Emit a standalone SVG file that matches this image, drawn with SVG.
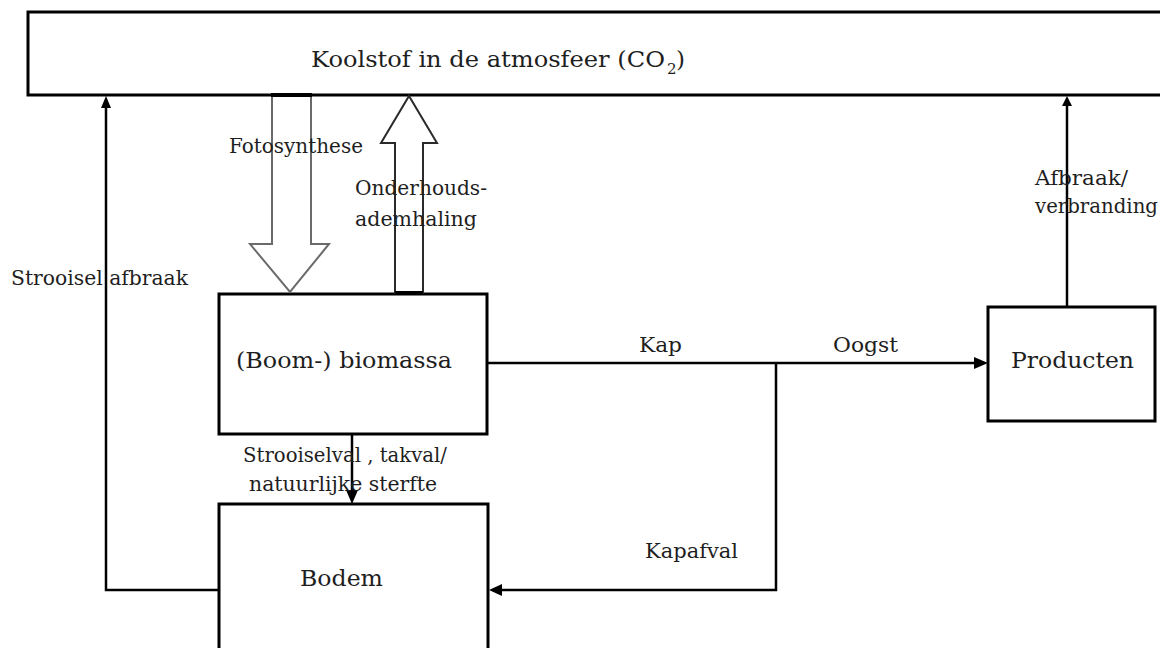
<svg xmlns="http://www.w3.org/2000/svg" width="1160" height="648" viewBox="0 0 1160 648">
<style>
.box{fill:#fff;stroke:#000;stroke-width:3}
.lbl{font-family:'DejaVu Serif','Liberation Serif',serif;fill:#1e1e1e}
.big{font-size:23px}
.sm{font-size:20px}
.ln{fill:none;stroke:#000;stroke-width:2.5}
.hd{fill:#000;stroke:none}
</style>
<rect width="1160" height="648" fill="#fff"/>
<g id="atmosfeer">
<rect class="box" x="28" y="12" width="1150" height="83"/>
<text class="lbl big" x="311" y="67" textLength="354" lengthAdjust="spacingAndGlyphs">Koolstof in de atmosfeer (CO</text>
<text class="lbl" x="667" y="74" font-size="15">2</text>
<text class="lbl big" x="676" y="67">)</text>
</g>
<g id="biomassa">
<rect class="box" x="219" y="294" width="268" height="140"/>
<text class="lbl big" x="236" y="368" textLength="216" lengthAdjust="spacingAndGlyphs">(Boom-) biomassa</text>
</g>
<g id="bodem">
<rect class="box" x="219" y="504" width="269" height="170"/>
<text class="lbl big" x="300" y="586" textLength="83" lengthAdjust="spacingAndGlyphs">Bodem</text>
</g>
<g id="producten">
<rect class="box" x="988" y="307" width="167" height="114"/>
<text class="lbl big" x="1011" y="368" textLength="123" lengthAdjust="spacingAndGlyphs">Producten</text>
</g>
<g id="connectors">
<path d="M272,95 L272,244 L250,244 L290,292 L329,244 L311,244 L311,95" fill="#fff" stroke="#6a6a6a" stroke-width="2"/>
<line x1="271" y1="95" x2="312" y2="95" stroke="#000" stroke-width="4"/>
<path d="M395,293 L395,143 L381,143 L409,96 L437,143 L423,143 L423,293 Z" fill="#fff" stroke="#2a2a2a" stroke-width="2"/>
<line x1="395" y1="293" x2="423" y2="293" stroke="#000" stroke-width="4"/>
<polyline class="ln" points="219,590 106,590 106,106"/>
<polygon class="hd" points="106,96 101,108 111,108"/>
<line class="ln" x1="352" y1="434" x2="352" y2="492"/>
<polygon class="hd" points="352,504 346,490 358,490"/>
<line class="ln" x1="487" y1="363" x2="976" y2="363"/>
<polygon class="hd" points="988,363 974,357 974,369"/>
<polyline class="ln" points="776,363 776,590 500,590"/>
<polygon class="hd" points="489,590 502,584 502,596"/>
<line class="ln" x1="1067" y1="307" x2="1067" y2="104"/>
<polygon class="hd" points="1067,96 1062,106 1072,106"/>
</g>
<g id="labels">
<text class="lbl sm" x="229" y="153" textLength="134" lengthAdjust="spacingAndGlyphs">Fotosynthese</text>
<text class="lbl sm" x="355" y="195" textLength="132" lengthAdjust="spacingAndGlyphs">Onderhouds-</text>
<text class="lbl sm" x="355" y="226" textLength="122" lengthAdjust="spacingAndGlyphs">ademhaling</text>
<text class="lbl sm" x="11" y="285" textLength="177" lengthAdjust="spacingAndGlyphs">Strooisel afbraak</text>
<text class="lbl sm" x="639" y="352" textLength="43" lengthAdjust="spacingAndGlyphs">Kap</text>
<text class="lbl sm" x="833" y="352" textLength="65" lengthAdjust="spacingAndGlyphs">Oogst</text>
<text class="lbl sm" x="1035" y="185" textLength="93" lengthAdjust="spacingAndGlyphs">Afbraak/</text>
<text class="lbl sm" x="1035" y="213" textLength="123" lengthAdjust="spacingAndGlyphs">verbranding</text>
<text class="lbl sm" x="243" y="462" textLength="204" lengthAdjust="spacingAndGlyphs">Strooiselval , takval/</text>
<text class="lbl sm" x="249" y="491" textLength="188" lengthAdjust="spacingAndGlyphs">natuurlijke sterfte</text>
<text class="lbl sm" x="645" y="558" textLength="93" lengthAdjust="spacingAndGlyphs">Kapafval</text>
</g>
</svg>
